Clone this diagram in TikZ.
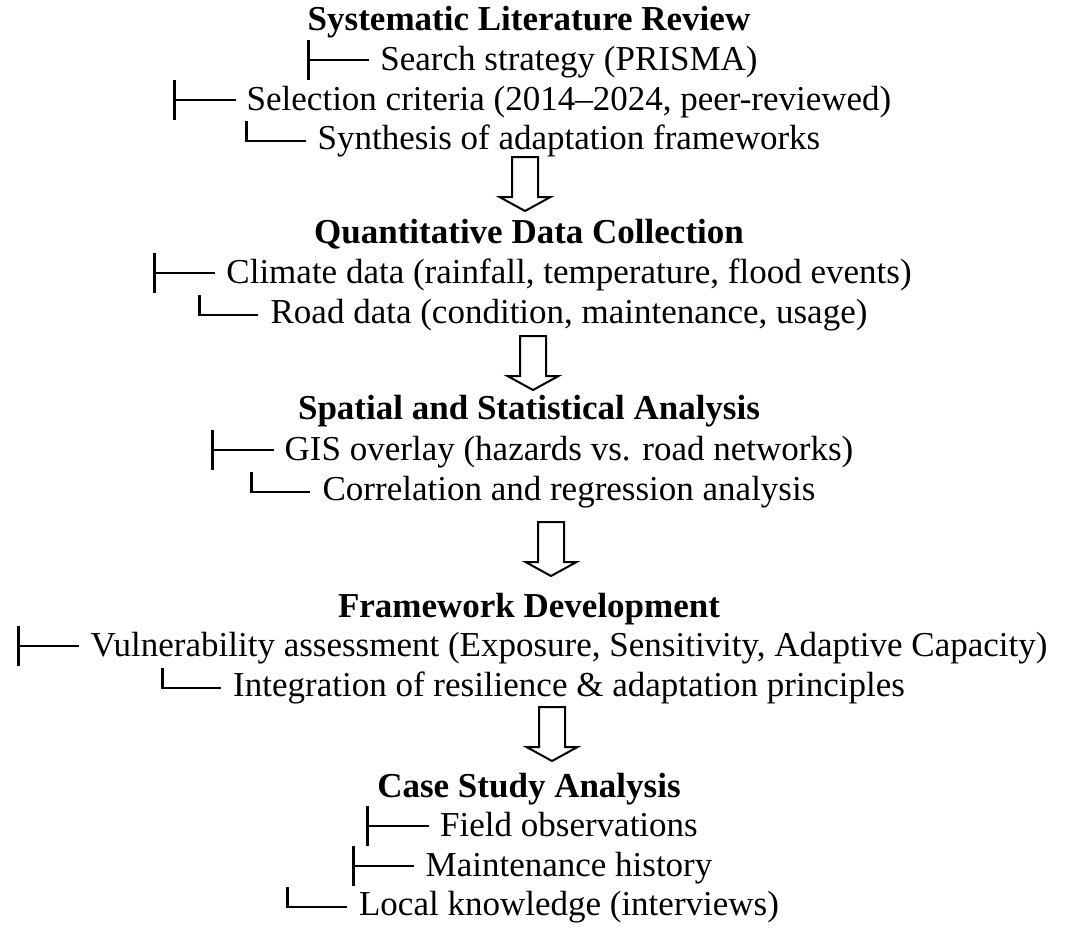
\documentclass[tikz,border=0pt]{standalone}
\usepackage{fontspec}
\setmainfont{Liberation Serif}
\newcommand{\itemfont}{\fontsize{35}{40}\selectfont}
\newcommand{\headfont}{\fontsize{35}{40}\selectfont\bfseries}
\tikzset{
  item/.style={font=\itemfont, anchor=base, inner sep=0pt},
  head/.style={font=\headfont, anchor=base, inner sep=0pt},
  vbar/.style={line width=3pt},
  hbar/.style={line width=2.3pt},
  bigarrow/.style={draw, line width=2pt, fill=white, line join=miter},
}
\newcommand{\drawtee}[1]{%
  \draw[vbar] ([xshift=-72pt,yshift=30pt]#1.base west) -- ([xshift=-72pt,yshift=-10pt]#1.base west);
  \draw[hbar] ([xshift=-72pt,yshift=10pt]#1.base west) -- ([xshift=-11pt,yshift=10pt]#1.base west);}
\newcommand{\drawcorner}[1]{%
  \draw[vbar] ([xshift=-71pt,yshift=28pt]#1.base west) -- ([xshift=-71pt,yshift=7pt]#1.base west);
  \draw[hbar] ([xshift=-72.5pt,yshift=8pt]#1.base west) -- ([xshift=-12pt,yshift=8pt]#1.base west);}
\newcommand{\drawbigarrow}[1]{%
  \draw[bigarrow] ([xshift=-13pt]#1) -- ([xshift=13pt]#1) -- ([xshift=13pt,yshift=-40pt]#1)
    -- ([xshift=25.5pt,yshift=-40pt]#1) -- ([yshift=-54pt]#1) -- ([xshift=-25.5pt,yshift=-40pt]#1)
    -- ([xshift=-13pt,yshift=-40pt]#1) -- cycle;}
\begin{document}
\begin{tikzpicture}[x=1pt,y=-1pt]
\useasboundingbox (0,0) rectangle (1067,929);
\fill[white] (0,0) rectangle (1067,929);
% section 1
\node[head] (t1) at (529,30) {Systematic Literature Review};
\node[item] (a1) at (569,70) {Search strategy (PRISMA)};
\node[item] (a2) at (569,110) {Selection criteria (2014–2024, peer-reviewed)};
\node[item] (a3) at (569,149) {Synthesis of adaptation frameworks};
\drawtee{a1}\drawtee{a2}\drawcorner{a3}
\coordinate (r1) at (525,157);
\drawbigarrow{r1}
% section 2
\node[head] (t2) at (529,243) {Quantitative Data Collection};
\node[item] (b1) at (569,283) {Climate data (rainfall, temperature, flood events)};
\node[item] (b2) at (569,323) {Road data (condition, maintenance, usage)};
\drawtee{b1}\drawcorner{b2}
\coordinate (r2) at (533,336);
\drawbigarrow{r2}
% section 3
\node[head] (t3) at (529,419) {Spatial and Statistical Analysis};
\node[item] (c1) at (569,460) {GIS overlay (hazards vs. road networks)};
\node[item] (c2) at (569,500) {Correlation and regression analysis};
\drawtee{c1}\drawcorner{c2}
\coordinate (r3) at (551,522);
\drawbigarrow{r3}
% section 4
\node[head] (t4) at (529,617) {Framework Development};
\node[item] (d1) at (569,656) {Vulnerability assessment (Exposure, Sensitivity, Adaptive Capacity)};
\node[item] (d2) at (569,696) {Integration of resilience \& adaptation principles};
\drawtee{d1}\drawcorner{d2}
\coordinate (r4) at (552,707);
\drawbigarrow{r4}
% section 5
\node[head] (t5) at (529,797) {Case Study Analysis};
\node[item] (e1) at (569,836) {Field observations};
\node[item] (e2) at (569,876) {Maintenance history};
\node[item] (e3) at (569,915) {Local knowledge (interviews)};
\drawtee{e1}\drawtee{e2}\drawcorner{e3}
\end{tikzpicture}
\end{document}
